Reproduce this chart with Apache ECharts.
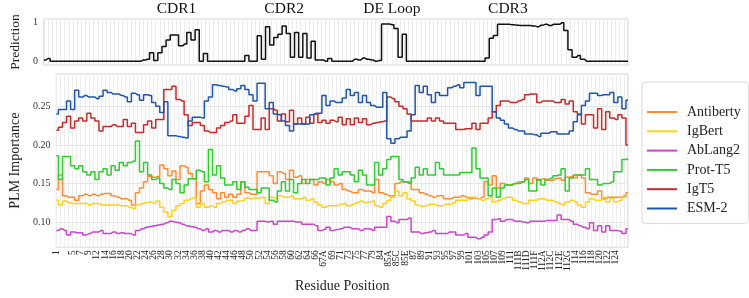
<!DOCTYPE html>
<html>
<head>
<meta charset="utf-8">
<script src="https://cdn.jsdelivr.net/npm/echarts@6/dist/echarts.min.js"></script>
<style>
  html, body { margin: 0; background: #fff; }
  #chart { width: 749px; height: 298px; }
</style>
</head>
<body>
<div id="chart"></div>
<script>
// residue positions (x axis)
const categories = [
  '1','2','3','4','5','6','7','8','9','11',
  '12','13','14','15','16','17','18','19','20','21',
  '22','23','24','25','26','27','28','29','30','31',
  '32','33','34','35','36','37','38','39','40','41',
  '42','43','44','45','46','47','48','49','50','51',
  '52','53','54','55','56','57','58','59','60','61',
  '62','63','64','65','66','67','67A','68','69','70',
  '71','72','73','74','75','76','77','78','79','80',
  '84','85','85A','85B','85C','85D','85E','86','87','88',
  '89','90','91','92','93','94','95','96','97','98',
  '99','100','101','102','103','104','105','106','107','108',
  '109','110','111','111A','111B','111C','111D','111E','111F','111G',
  '112A','112B','112C','112D','112E','112F','112G','113','114','115',
  '116','117','118','119','120','121','122','123','124','125',
  '126','127'
];

const prediction = [
  0.03,0.07,0,0,0,0,0,0,0,0,
  0,0,0,0,0,0,0,0,0,0,
  0,0,0,0,0.03,0.05,0.22,0.02,0.22,0.38,
  0.55,0.68,0.68,0.40,0.45,0.75,0.55,0.82,0,0.2,
  0,0,0,0,0,0,0,0,0,0.15,
  0,0,0.66,0.05,0.9,0.42,0.62,0.7,0.92,0.72,
  0.1,0.75,0.1,0.72,0.08,0.52,0.03,0.03,0,0.07,
  0,0,0,0,0,0.05,0.03,0.08,0.05,0.03,
  0,0.02,0.97,0.97,0.95,0.85,0.1,0.7,0,0,
  0,0,0,0,0,0,0,0,0,0,
  0,0,0,0,0,0,0,0.08,0.6,0.67,
  0.96,0.96,0.96,0.95,0.94,0.93,0.93,0.93,0.92,0.9,
  0.94,0.96,0.93,0.96,0.96,1.0,0.8,0.3,0.1,0.15,
  0.05,0,0,0,0,0,0,0,0,0,
  0,0
];

const antiberty = [
  .142,.161,.134,.132,.132,.128,.134,.136,.134,.136,
  .134,.136,.137,.137,.134,.132,.130,.130,.128,.122,
  .138,.144,.152,.159,.158,.159,.174,.169,.160,.166,
  .155,.173,.171,.163,.156,.124,.140,.148,.142,.138,
  .130,.138,.132,.136,.132,.136,.152,.138,.136,.136,
  .165,.165,.165,.160,.150,.165,.163,.155,.167,.158,
  .160,.150,.155,.155,.148,.152,.150,.155,.152,.148,
  .150,.142,.140,.138,.138,.142,.140,.140,.138,.155,
  .138,.136,.134,.134,.150,.152,.152,.152,.142,.142,
  .138,.136,.134,.132,.134,.134,.130,.130,.132,.132,
  .134,.132,.130,.131,.130,.132,.152,.148,.160,.144,
  .150,.148,.148,.150,.152,.152,.157,.150,.157,.154,
  .156,.154,.154,.156,.157,.154,.158,.159,.157,.161,
  .157,.138,.136,.136,.140,.130,.132,.132,.132,.132,
  .134,.138
];

const igbert = [
  .128,.122,.127,.125,.124,.124,.124,.124,.122,.124,
  .124,.122,.122,.122,.122,.122,.121,.121,.119,.117,
  .122,.124,.125,.126,.124,.127,.119,.113,.107,.115,
  .121,.124,.128,.130,.132,.119,.124,.119,.121,.119,
  .124,.126,.128,.128,.124,.127,.128,.131,.130,.131,
  .131,.132,.124,.132,.130,.134,.132,.132,.134,.130,
  .130,.132,.128,.130,.126,.122,.119,.121,.121,.121,
  .123,.124,.121,.123,.125,.127,.125,.126,.127,.121,
  .119,.124,.128,.132,.140,.134,.138,.130,.127,.122,
  .120,.121,.123,.123,.121,.121,.123,.123,.125,.128,
  .128,.128,.132,.132,.130,.128,.130,.132,.126,.128,
  .130,.132,.132,.128,.126,.124,.124,.128,.128,.130,
  .130,.128,.128,.126,.124,.122,.126,.128,.126,.122,
  .119,.126,.130,.128,.128,.132,.126,.130,.126,.128,
  .132,.132
];

const ablang2 = [
  .089,.091,.089,.083,.087,.086,.086,.083,.085,.087,
  .087,.089,.085,.085,.087,.085,.086,.085,.085,.083,
  .089,.091,.093,.094,.095,.096,.097,.099,.101,.100,
  .099,.097,.095,.094,.093,.091,.089,.091,.087,.089,
  .087,.089,.089,.087,.089,.087,.089,.091,.089,.089,
  .101,.101,.100,.101,.097,.101,.101,.101,.101,.100,
  .100,.097,.097,.097,.095,.089,.090,.093,.089,.090,
  .091,.093,.093,.091,.091,.089,.091,.091,.089,.093,
  .093,.093,.107,.101,.099,.103,.103,.105,.087,.087,
  .085,.086,.087,.089,.085,.085,.085,.087,.087,.083,
  .083,.085,.080,.080,.078,.080,.083,.087,.103,.104,
  .101,.103,.103,.101,.101,.100,.099,.101,.101,.101,
  .101,.102,.102,.102,.109,.103,.103,.101,.097,.095,
  .093,.091,.099,.089,.095,.087,.095,.089,.089,.088,
  .085,.091
];

const protT5 = [
  .186,.155,.185,.185,.173,.169,.173,.165,.161,.165,
  .155,.165,.169,.161,.173,.167,.177,.173,.177,.179,
  .205,.165,.177,.161,.155,.157,.150,.144,.142,.155,
  .150,.138,.148,.156,.156,.167,.165,.152,.194,.161,
  .173,.157,.148,.148,.152,.142,.152,.145,.142,.142,
  .138,.144,.144,.128,.126,.140,.152,.140,.155,.138,
  .150,.155,.150,.155,.155,.157,.157,.148,.157,.169,
  .161,.165,.165,.161,.152,.167,.161,.148,.148,.177,
  .161,.169,.181,.185,.185,.155,.152,.150,.157,.171,
  .161,.169,.161,.161,.177,.169,.161,.161,.161,.161,
  .164,.164,.164,.196,.169,.157,.157,.134,.144,.132,
  .144,.148,.148,.150,.150,.152,.155,.140,.140,.155,
  .148,.155,.157,.160,.161,.169,.140,.157,.161,.161,
  .161,.169,.155,.155,.148,.150,.150,.152,.165,.165,
  .181,.182
];

const igT5 = [
  .219,.223,.229,.237,.222,.231,.235,.231,.241,.235,
  .231,.218,.224,.224,.226,.224,.224,.233,.224,.228,
  .216,.216,.226,.231,.222,.233,.233,.272,.272,.276,
  .259,.257,.239,.225,.229,.229,.225,.218,.216,.216,
  .222,.225,.229,.231,.239,.228,.228,.237,.251,.220,
  .220,.235,.220,.247,.245,.231,.240,.230,.245,.227,
  .235,.227,.236,.228,.240,.229,.232,.228,.232,.230,
  .236,.226,.234,.226,.235,.229,.234,.226,.228,.229,
  .230,.231,.262,.260,.256,.250,.247,.240,.231,.231,
  .231,.231,.235,.231,.235,.231,.228,.228,.228,.220,
  .220,.221,.221,.228,.220,.228,.228,.235,.243,.251,
  .257,.257,.255,.255,.257,.259,.265,.266,.266,.255,
  .257,.257,.257,.255,.255,.259,.253,.257,.243,.240,
  .227,.239,.239,.222,.247,.220,.243,.235,.233,.239,
  .235,.200
];

const esm2 = [
  .240,.246,.246,.257,.246,.271,.262,.264,.262,.262,
  .260,.263,.271,.268,.266,.266,.264,.262,.256,.267,
  .265,.258,.265,.264,.255,.250,.242,.256,.212,.212,
  .211,.210,.209,.231,.236,.236,.235,.257,.262,.278,
  .277,.276,.275,.272,.270,.273,.277,.272,.265,.257,
  .280,.280,.247,.255,.240,.239,.231,.225,.218,.227,
  .227,.227,.227,.239,.241,.241,.264,.251,.257,.255,
  .255,.261,.272,.264,.268,.255,.264,.255,.251,.249,
  .249,.268,.208,.202,.208,.210,.210,.218,.239,.277,
  .268,.276,.265,.255,.268,.264,.264,.274,.276,.278,
  .274,.281,.281,.281,.264,.276,.276,.276,.243,.235,
  .232,.227,.222,.220,.218,.218,.214,.214,.213,.211,
  .215,.215,.217,.217,.214,.214,.214,.218,.230,.239,
  .251,.257,.267,.267,.264,.265,.265,.268,.255,.262,
  .247,.258
];

const plmNames = ['Antiberty', 'IgBert', 'AbLang2', 'Prot-T5', 'IgT5', 'ESM-2'];
const plmValues = [antiberty, igbert, ablang2, protT5, igT5, esm2];
const plmColors = ['#ff8c33', '#ffd11a', '#cc44cc', '#2ecc2e', '#c62a2a', '#1f55a8'];

const regionNames = ['CDR1', 'CDR2', 'DE Loop', 'CDR3'];
const regionAt = [32, 58, 84, 112];   // category index of each label
const predTicks = [0, 1];

const serif = 'Liberation Serif';
const chart = echarts.init(document.getElementById('chart'));

const xBase = {
  type: 'category',
  data: categories,
  boundaryGap: false,
  axisLine: { show: false },
  axisTick: { show: false },
  splitLine: { show: true, interval: 0, lineStyle: { color: '#ededed', width: 1 } }
};

const option = {
  animation: false,
  grid: [
    { left: 39, right: 121, top: 19, height: 46, show: true, borderColor: '#d6d6d6', borderWidth: 1.2 },
    { left: 39, right: 121, top: 74, height: 182, show: true, borderColor: '#d6d6d6', borderWidth: 1.2 }
  ],
  xAxis: [
    Object.assign({}, xBase, { gridIndex: 0, axisLabel: { show: false } }),
    Object.assign({}, xBase, {
      gridIndex: 1,
      axisLabel: {
        interval: idx => idx % 2 === 0, rotate: 90, showMinLabel: true, showMaxLabel: false,
        fontSize: 9.5, lineHeight: 8, fontFamily: serif, color: '#222', margin: 3
      },
      name: 'Residue Position',
      nameLocation: 'middle',
      nameGap: 29,
      nameTextStyle: { fontSize: 14, fontFamily: serif, color: '#222' }
    })
  ],
  yAxis: [
    {
      type: 'value', gridIndex: 0, min: -0.1, max: 1.1,
      splitLine: { show: false }, axisLine: { show: false }, axisTick: { show: false },
      axisLabel: {
        fontSize: 10, fontFamily: serif, color: '#333', margin: 6,
        formatter: v => predTicks.some(t => Math.abs(t - v) < 1e-6) ? String(Math.round(v)) : ''
      },
      name: 'Prediction', nameLocation: 'middle', nameGap: 15,
      nameTextStyle: { fontSize: 13.5, fontFamily: serif, color: '#222' }
    },
    {
      type: 'value', gridIndex: 1, min: 0.067, max: 0.292,
      splitLine: { lineStyle: { color: '#e4e4e4' } }, axisLine: { show: false }, axisTick: { show: false },
      axisLabel: {
        fontSize: 10, fontFamily: serif, color: '#333', margin: 6,
        showMinLabel: false, showMaxLabel: false,
        formatter: v => v.toFixed(2)
      },
      name: 'PLM Importance', nameLocation: 'middle', nameGap: 27,
      nameTextStyle: { fontSize: 14, fontFamily: serif, color: '#222' }
    }
  ],
  legend: {
    orient: 'vertical', left: 642, top: 82,
    padding: [23, 8, 8, 5],
    itemWidth: 30, itemHeight: 2, itemGap: 5.3, icon: 'rect',
    borderColor: '#d9d9d9', borderWidth: 1, borderRadius: 4, backgroundColor: '#fff',
    textStyle: { fontSize: 14, fontFamily: serif, color: '#222', lineHeight: 14, padding: [0, 0, 0, 5] },
    data: plmNames
  },
  graphic: [{
    type: 'text', x: 695, y: 93,
    style: { text: 'PLM', font: '14px "Liberation Serif"', fill: '#222', align: 'center', verticalAlign: 'middle' }
  }],
  series: [{
    type: 'line', xAxisIndex: 0, yAxisIndex: 0,
    data: prediction, step: 'middle', showSymbol: false,
    lineStyle: { color: '#111', width: 1.5 },
    emphasis: { disabled: true },
    markPoint: {
      symbol: 'circle', symbolSize: 0, silent: true,
      label: { show: true, position: 'top', distance: 2, formatter: '{b}', fontSize: 15.5, fontFamily: serif, color: '#111' },
      data: regionNames.map((n, k) => ({ name: n, coord: [regionAt[k], 1.1] }))
    }
  }].concat(plmNames.map((n, k) => ({
    name: n, type: 'line', xAxisIndex: 1, yAxisIndex: 1,
    data: plmValues[k], step: 'middle', showSymbol: false,
    color: plmColors[k],
    lineStyle: { color: plmColors[k], width: 1.5 },
    emphasis: { disabled: true }
  })))
};

chart.setOption(option);
</script>
</body>
</html>
